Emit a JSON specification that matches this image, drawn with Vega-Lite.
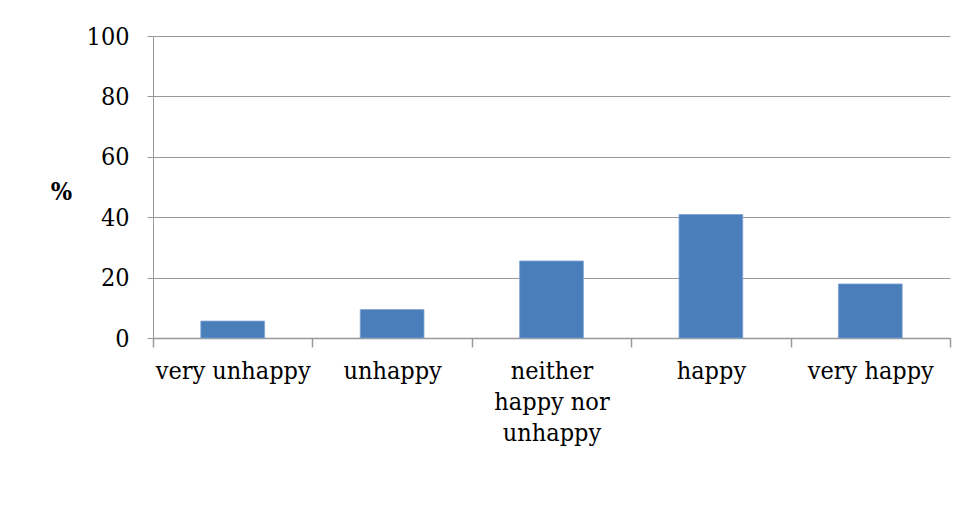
{
  "$schema": "https://vega.github.io/schema/vega-lite/v6.json",
  "autosize": "none",
  "width": 797,
  "height": 302,
  "padding": {"left": 153, "top": 36, "right": 19, "bottom": 179},
  "background": "white",
  "data": {
    "values": [
      {"category": "very unhappy", "percent": 5.6},
      {"category": "unhappy", "percent": 9.4},
      {"category": "neither happy nor unhappy", "percent": 25.5},
      {"category": "happy", "percent": 40.9},
      {"category": "very happy", "percent": 17.9}
    ]
  },
  "mark": {"type": "bar", "color": "#4A7EBB", "stroke": "#7FA3D0", "strokeWidth": 0.8, "width": {"band": 0.4}},
  "encoding": {
    "x": {
      "field": "category",
      "type": "nominal",
      "sort": null,
      "scale": {"paddingInner": 0, "paddingOuter": 0},
      "axis": {
        "title": null,
        "labelAngle": 0,
        "labelFont": "DejaVu Serif Condensed",
        "labelFontSize": 25,
        "labelColor": "black",
        "labelPadding": 11,
        "labelLineHeight": 31,
        "labelExpr": "datum.label == 'neither happy nor unhappy' ? ['neither', 'happy nor', 'unhappy'] : datum.label",
        "tickBand": "extent",
        "tickSize": 9,
        "tickWidth": 1.5,
        "tickColor": "#999999",
        "domainColor": "#999999",
        "domainWidth": 1.5,
        "grid": false
      }
    },
    "y": {
      "field": "percent",
      "type": "quantitative",
      "scale": {"domain": [0, 100], "nice": false},
      "axis": {
        "title": "%",
        "titleAngle": 0,
        "titleFont": "DejaVu Serif Condensed",
        "titleFontSize": 25,
        "titleFontWeight": "bold",
        "titleColor": "black",
        "titleX": -92,
        "titleY": 155,
        "titleAlign": "center",
        "titleBaseline": "middle",
        "values": [0, 20, 40, 60, 80, 100],
        "labelFont": "DejaVu Serif Condensed",
        "labelFontSize": 25,
        "labelColor": "black",
        "labelPadding": 18,
        "tickSize": 6,
        "tickColor": "#999999",
        "domainColor": "#999999",
        "domainWidth": 1,
        "grid": true,
        "gridColor": "#999999",
        "gridWidth": 1.2
      }
    }
  },
  "config": {
    "view": {"stroke": null}
  }
}
